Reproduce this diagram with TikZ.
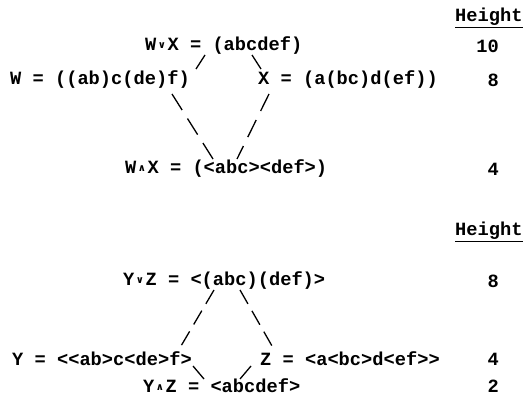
\documentclass[tikz,border=0pt]{standalone}
\usepackage{fontspec}
\setmonofont{Liberation Mono}
\newfontfamily\symfont{DejaVu Sans}
\newcommand{\myor}{\makebox[0.6em]{\raisebox{0.25ex}{\symfont\fontsize{10pt}{10pt}\selectfont ∨}}}
\newcommand{\myand}{\makebox[0.6em]{\raisebox{0.25ex}{\symfont\fontsize{10pt}{10pt}\selectfont ∧}}}
\tikzset{
  lbl/.style={font=\ttfamily\bfseries\fontsize{18.7pt}{20pt}\selectfont, inner sep=0pt, anchor=west},
  num/.style={font=\ttfamily\bfseries\fontsize{18.7pt}{20pt}\selectfont, inner sep=0pt, anchor=east},
  link/.style={line width=1.3pt},
  longlink/.style={line width=1.3pt, dash pattern=on 19pt off 10pt},
  shortlink/.style={line width=1.3pt, dash pattern=on 16pt off 8pt}
}
\begin{document}
\begin{tikzpicture}[x=1pt,y=-1pt]
\path[use as bounding box, fill=white] (0,0) rectangle (529,403);
% top lattice
\node[lbl] (h1) at (455,18) {\underline{Height}};
\node[lbl] (wvx) at (145,46) {W\myor X = (abcdef)};
\node[num] (n10) at (499,46) {10};
\node[lbl] (w) at (10,80) {W = ((ab)c(de)f)};
\node[lbl] (x) at (258,80) {X = (a(bc)d(ef))};
\node[num] (n8a) at (499,80) {8};
\node[lbl] (wax) at (125,169) {W\myand X = (<abc><def>)};
\node[num] (n4a) at (499,169) {4};
\coordinate (t1a) at (205,55); \coordinate (t1b) at (196,69);
\coordinate (t2a) at (252,55); \coordinate (t2b) at (261,69);
\coordinate (t3a) at (172,94); \coordinate (t3b) at (213,159);
\coordinate (t4a) at (269,94); \coordinate (t4b) at (237,159);
\draw[link] (t1a) -- (t1b);
\draw[link] (t2a) -- (t2b);
\draw[longlink] (t3a) -- (t3b);
\draw[longlink] (t4a) -- (t4b);
% bottom lattice
\node[lbl] (h2) at (455,232) {\underline{Height}};
\node[lbl] (yvz) at (123,281) {Y\myor Z = <(abc)(def)>};
\node[num] (n8b) at (499,281) {8};
\node[lbl] (y) at (12,359) {Y = <<ab>c<de>f>};
\node[lbl] (z) at (260,359) {Z = <a<bc>d<ef>>};
\node[num] (n4b) at (499,359) {4};
\node[lbl] (yaz) at (143,386) {Y\myand Z = <abcdef>};
\node[num] (n2) at (499,386) {2};
\coordinate (b1a) at (214,290); \coordinate (b1b) at (181,346);
\coordinate (b2a) at (240,290); \coordinate (b2b) at (272,346);
\coordinate (b3a) at (193,366); \coordinate (b3b) at (204,379);
\coordinate (b4a) at (251,366); \coordinate (b4b) at (240,379);
\draw[shortlink] (b1a) -- (b1b);
\draw[shortlink] (b2a) -- (b2b);
\draw[link] (b3a) -- (b3b);
\draw[link] (b4a) -- (b4b);
\end{tikzpicture}
\end{document}
